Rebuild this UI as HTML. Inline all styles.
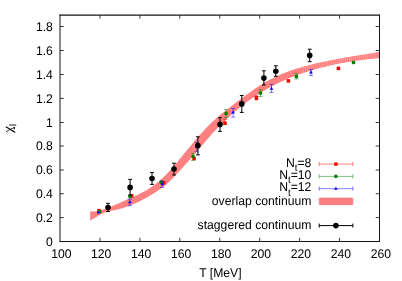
<!DOCTYPE html>
<html><head><meta charset="utf-8"><title>chart</title>
<style>
html,body{margin:0;padding:0;background:#fff;}
svg{display:block;will-change:transform}
text{font-family:"Liberation Sans",sans-serif;font-size:12.2px;fill:#000;text-rendering:geometricPrecision}
</style></head>
<body>
<svg width="402" height="281" viewBox="0 0 402 281">
<rect width="402" height="281" fill="#fff"/>
<g id="data">
<defs><pattern id="st" x="303.0" y="0" width="2" height="40" patternUnits="userSpaceOnUse"><rect x="0" y="0" width="1" height="40" fill="#fff" fill-opacity="0.16"/></pattern><clipPath id="bc"><polygon points="90.2,211.48 92.1,211.51 94.1,211.41 96.0,211.20 98.0,210.87 99.9,210.44 101.8,209.93 103.8,209.34 105.7,208.69 107.7,207.98 109.6,207.23 111.6,206.43 113.5,205.61 115.4,204.76 117.4,203.89 119.3,203.02 121.3,202.14 123.2,201.28 125.1,200.42 127.1,199.58 129.0,198.74 131.0,197.89 132.9,197.03 134.9,196.15 136.8,195.25 138.7,194.32 140.7,193.35 142.6,192.34 144.6,191.28 146.5,190.16 148.4,188.97 150.4,187.72 152.3,186.39 154.3,184.99 156.2,183.50 158.2,181.93 160.1,180.27 162.0,178.53 164.0,176.69 165.9,174.76 167.9,172.73 169.8,170.63 171.7,168.45 173.7,166.22 175.6,163.94 177.6,161.63 179.5,159.29 181.5,156.94 183.4,154.58 185.3,152.22 187.3,149.86 189.2,147.52 191.2,145.18 193.1,142.86 195.0,140.56 197.0,138.29 198.9,136.06 200.9,133.86 202.8,131.70 204.8,129.59 206.7,127.53 208.6,125.52 210.6,123.58 212.5,121.70 214.5,119.90 216.4,118.15 218.3,116.46 220.3,114.82 222.2,113.22 224.2,111.66 226.1,110.13 228.1,108.63 230.0,107.14 231.9,105.67 233.9,104.21 235.8,102.75 237.8,101.29 239.7,99.82 241.6,98.37 243.6,96.92 245.5,95.48 247.5,94.06 249.4,92.65 251.4,91.26 253.3,89.90 255.2,88.56 257.2,87.25 259.1,85.97 261.1,84.73 263.0,83.53 264.9,82.36 266.9,81.25 268.8,80.17 270.8,79.13 272.7,78.14 274.7,77.18 276.6,76.26 278.5,75.38 280.5,74.53 282.4,73.72 284.4,72.93 286.3,72.18 288.2,71.45 290.2,70.76 292.1,70.09 294.1,69.44 296.0,68.82 298.0,68.22 299.9,67.63 301.8,67.07 303.8,66.53 305.7,66.00 307.7,65.49 309.6,64.99 311.5,64.51 313.5,64.03 315.4,63.57 317.4,63.11 319.3,62.67 321.3,62.24 323.2,61.82 325.1,61.40 327.1,61.00 329.0,60.60 331.0,60.21 332.9,59.83 334.8,59.46 336.8,59.09 338.7,58.73 340.7,58.38 342.6,58.03 344.6,57.69 346.5,57.35 348.4,57.01 350.4,56.68 352.3,56.36 354.3,56.03 356.2,55.72 358.1,55.40 360.1,55.08 362.0,54.77 364.0,54.46 365.9,54.15 367.9,53.84 369.8,53.52 371.7,53.21 373.7,52.90 375.6,52.59 377.6,52.28 379.5,51.96 379.5,58.08 377.6,58.27 375.6,58.47 373.7,58.67 371.7,58.88 369.8,59.09 367.9,59.31 365.9,59.54 364.0,59.78 362.0,60.03 360.1,60.28 358.1,60.54 356.2,60.81 354.3,61.09 352.3,61.38 350.4,61.68 348.4,61.99 346.5,62.31 344.6,62.65 342.6,62.99 340.7,63.35 338.7,63.71 336.8,64.09 334.8,64.48 332.9,64.89 331.0,65.31 329.0,65.74 327.1,66.19 325.1,66.65 323.2,67.13 321.3,67.62 319.3,68.12 317.4,68.65 315.4,69.18 313.5,69.74 311.5,70.31 309.6,70.90 307.7,71.51 305.7,72.13 303.8,72.78 301.8,73.44 299.9,74.12 298.0,74.82 296.0,75.54 294.1,76.28 292.1,77.04 290.2,77.82 288.2,78.62 286.3,79.44 284.4,80.29 282.4,81.16 280.5,82.05 278.5,82.97 276.6,83.91 274.7,84.88 272.7,85.87 270.8,86.89 268.8,87.94 266.9,89.02 264.9,90.13 263.0,91.27 261.1,92.44 259.1,93.64 257.2,94.87 255.2,96.14 253.3,97.44 251.4,98.77 249.4,100.14 247.5,101.55 245.5,102.99 243.6,104.47 241.6,105.99 239.7,107.54 237.8,109.13 235.8,110.76 233.9,112.43 231.9,114.14 230.0,115.88 228.1,117.67 226.1,119.49 224.2,121.35 222.2,123.25 220.3,125.19 218.3,127.17 216.4,129.20 214.5,131.26 212.5,133.36 210.6,135.50 208.6,137.68 206.7,139.90 204.8,142.15 202.8,144.42 200.9,146.70 198.9,148.99 197.0,151.28 195.0,153.55 193.1,155.82 191.2,158.06 189.2,160.27 187.3,162.44 185.3,164.57 183.4,166.68 181.5,168.78 179.5,170.90 177.6,173.05 175.6,175.19 173.7,177.30 171.7,179.33 169.8,181.26 167.9,183.05 165.9,184.71 164.0,186.25 162.0,187.67 160.1,189.03 158.2,190.36 156.2,191.66 154.3,192.93 152.3,194.17 150.4,195.37 148.4,196.53 146.5,197.65 144.6,198.74 142.6,199.78 140.7,200.78 138.7,201.73 136.8,202.65 134.9,203.53 132.9,204.36 131.0,205.15 129.0,205.90 127.1,206.61 125.1,207.27 123.2,207.89 121.3,208.47 119.3,209.00 117.4,209.49 115.4,209.94 113.5,210.34 111.6,210.72 109.6,211.15 107.7,211.68 105.7,212.33 103.8,213.09 101.8,213.96 99.9,214.94 98.0,216.02 96.0,217.16 94.1,218.34 92.1,219.56 90.2,220.79"/></clipPath></defs><polygon points="90.2,211.48 92.1,211.51 94.1,211.41 96.0,211.20 98.0,210.87 99.9,210.44 101.8,209.93 103.8,209.34 105.7,208.69 107.7,207.98 109.6,207.23 111.6,206.43 113.5,205.61 115.4,204.76 117.4,203.89 119.3,203.02 121.3,202.14 123.2,201.28 125.1,200.42 127.1,199.58 129.0,198.74 131.0,197.89 132.9,197.03 134.9,196.15 136.8,195.25 138.7,194.32 140.7,193.35 142.6,192.34 144.6,191.28 146.5,190.16 148.4,188.97 150.4,187.72 152.3,186.39 154.3,184.99 156.2,183.50 158.2,181.93 160.1,180.27 162.0,178.53 164.0,176.69 165.9,174.76 167.9,172.73 169.8,170.63 171.7,168.45 173.7,166.22 175.6,163.94 177.6,161.63 179.5,159.29 181.5,156.94 183.4,154.58 185.3,152.22 187.3,149.86 189.2,147.52 191.2,145.18 193.1,142.86 195.0,140.56 197.0,138.29 198.9,136.06 200.9,133.86 202.8,131.70 204.8,129.59 206.7,127.53 208.6,125.52 210.6,123.58 212.5,121.70 214.5,119.90 216.4,118.15 218.3,116.46 220.3,114.82 222.2,113.22 224.2,111.66 226.1,110.13 228.1,108.63 230.0,107.14 231.9,105.67 233.9,104.21 235.8,102.75 237.8,101.29 239.7,99.82 241.6,98.37 243.6,96.92 245.5,95.48 247.5,94.06 249.4,92.65 251.4,91.26 253.3,89.90 255.2,88.56 257.2,87.25 259.1,85.97 261.1,84.73 263.0,83.53 264.9,82.36 266.9,81.25 268.8,80.17 270.8,79.13 272.7,78.14 274.7,77.18 276.6,76.26 278.5,75.38 280.5,74.53 282.4,73.72 284.4,72.93 286.3,72.18 288.2,71.45 290.2,70.76 292.1,70.09 294.1,69.44 296.0,68.82 298.0,68.22 299.9,67.63 301.8,67.07 303.8,66.53 305.7,66.00 307.7,65.49 309.6,64.99 311.5,64.51 313.5,64.03 315.4,63.57 317.4,63.11 319.3,62.67 321.3,62.24 323.2,61.82 325.1,61.40 327.1,61.00 329.0,60.60 331.0,60.21 332.9,59.83 334.8,59.46 336.8,59.09 338.7,58.73 340.7,58.38 342.6,58.03 344.6,57.69 346.5,57.35 348.4,57.01 350.4,56.68 352.3,56.36 354.3,56.03 356.2,55.72 358.1,55.40 360.1,55.08 362.0,54.77 364.0,54.46 365.9,54.15 367.9,53.84 369.8,53.52 371.7,53.21 373.7,52.90 375.6,52.59 377.6,52.28 379.5,51.96 379.5,58.08 377.6,58.27 375.6,58.47 373.7,58.67 371.7,58.88 369.8,59.09 367.9,59.31 365.9,59.54 364.0,59.78 362.0,60.03 360.1,60.28 358.1,60.54 356.2,60.81 354.3,61.09 352.3,61.38 350.4,61.68 348.4,61.99 346.5,62.31 344.6,62.65 342.6,62.99 340.7,63.35 338.7,63.71 336.8,64.09 334.8,64.48 332.9,64.89 331.0,65.31 329.0,65.74 327.1,66.19 325.1,66.65 323.2,67.13 321.3,67.62 319.3,68.12 317.4,68.65 315.4,69.18 313.5,69.74 311.5,70.31 309.6,70.90 307.7,71.51 305.7,72.13 303.8,72.78 301.8,73.44 299.9,74.12 298.0,74.82 296.0,75.54 294.1,76.28 292.1,77.04 290.2,77.82 288.2,78.62 286.3,79.44 284.4,80.29 282.4,81.16 280.5,82.05 278.5,82.97 276.6,83.91 274.7,84.88 272.7,85.87 270.8,86.89 268.8,87.94 266.9,89.02 264.9,90.13 263.0,91.27 261.1,92.44 259.1,93.64 257.2,94.87 255.2,96.14 253.3,97.44 251.4,98.77 249.4,100.14 247.5,101.55 245.5,102.99 243.6,104.47 241.6,105.99 239.7,107.54 237.8,109.13 235.8,110.76 233.9,112.43 231.9,114.14 230.0,115.88 228.1,117.67 226.1,119.49 224.2,121.35 222.2,123.25 220.3,125.19 218.3,127.17 216.4,129.20 214.5,131.26 212.5,133.36 210.6,135.50 208.6,137.68 206.7,139.90 204.8,142.15 202.8,144.42 200.9,146.70 198.9,148.99 197.0,151.28 195.0,153.55 193.1,155.82 191.2,158.06 189.2,160.27 187.3,162.44 185.3,164.57 183.4,166.68 181.5,168.78 179.5,170.90 177.6,173.05 175.6,175.19 173.7,177.30 171.7,179.33 169.8,181.26 167.9,183.05 165.9,184.71 164.0,186.25 162.0,187.67 160.1,189.03 158.2,190.36 156.2,191.66 154.3,192.93 152.3,194.17 150.4,195.37 148.4,196.53 146.5,197.65 144.6,198.74 142.6,199.78 140.7,200.78 138.7,201.73 136.8,202.65 134.9,203.53 132.9,204.36 131.0,205.15 129.0,205.90 127.1,206.61 125.1,207.27 123.2,207.89 121.3,208.47 119.3,209.00 117.4,209.49 115.4,209.94 113.5,210.34 111.6,210.72 109.6,211.15 107.7,211.68 105.7,212.33 103.8,213.09 101.8,213.96 99.9,214.94 98.0,216.02 96.0,217.16 94.1,218.34 92.1,219.56 90.2,220.79" fill="#ff8080"/><rect x="303" y="40" width="76.5" height="40" fill="url(#st)" clip-path="url(#bc)"/>

<rect x="97.25" y="208.85" width="3.5" height="3.5" rx="0" fill="#ff0000"/>

<rect x="129.95" y="194.15" width="3.5" height="3.5" rx="0" fill="#ff0000"/>

<rect x="161.85" y="181.05" width="3.5" height="3.5" rx="0" fill="#ff0000"/>

<rect x="192.35" y="156.75" width="3.5" height="3.5" rx="0" fill="#ff0000"/>
<path d="M224.9,119.3V124.5M222.8,119.3h4.2M222.8,124.5h4.2" stroke="#ff0000" stroke-width="0.5" fill="none"/>
<rect x="223.20" y="121.35" width="3.5" height="3.5" rx="0" fill="#ff0000"/>

<rect x="254.65" y="95.45" width="3.5" height="4.7" rx="0.9" fill="#ff0000"/>

<rect x="286.65" y="79.15" width="3.5" height="3.5" rx="0" fill="#ff0000"/>

<rect x="336.70" y="66.65" width="3.5" height="3.5" rx="0" fill="#ff0000"/>

<rect x="97.95" y="209.75" width="3.5" height="3.5" rx="1.3" fill="#008000"/>

<rect x="128.15" y="194.65" width="3.5" height="3.5" rx="1.3" fill="#008000"/>

<rect x="159.45" y="180.55" width="3.5" height="3.5" rx="1.3" fill="#008000"/>
<path d="M193.1,153.3V160.4M191.0,153.3h4.2M191.0,160.4h4.2" stroke="#008000" stroke-width="0.5" fill="none"/>
<rect x="191.35" y="154.85" width="3.5" height="3.5" rx="1.3" fill="#008000"/>
<path d="M226.1,109.5V117.5M224.0,109.5h4.2M224.0,117.5h4.2" stroke="#008000" stroke-width="0.5" fill="none"/>
<rect x="224.35" y="111.75" width="3.5" height="3.5" rx="1.3" fill="#008000"/>
<path d="M260.5,89.6V96.5M258.4,89.6h4.2M258.4,96.5h4.2" stroke="#008000" stroke-width="0.5" fill="none"/>
<rect x="258.75" y="91.25" width="3.5" height="3.5" rx="1.3" fill="#008000"/>
<path d="M296.4,73.4V79.0M294.3,73.4h4.2M294.3,79.0h4.2" stroke="#008000" stroke-width="0.5" fill="none"/>
<rect x="294.65" y="74.75" width="3.5" height="3.5" rx="1.3" fill="#008000"/>

<rect x="351.75" y="60.70" width="3.5" height="3.5" rx="1.3" fill="#008000"/>

<path d="M98.4,210.4l1.8,3.1h-3.6z" fill="#0000ff"/>
<path d="M129.8,199.1V205.7M127.7,199.1h4.2M127.7,205.7h4.2" stroke="#0000ff" stroke-width="0.5" fill="none"/>
<path d="M129.8,200.2l1.8,3.1h-3.6z" fill="#0000ff"/>
<path d="M162.2,181.0V187.4M160.1,181.0h4.2M160.1,187.4h4.2" stroke="#0000ff" stroke-width="0.5" fill="none"/>
<path d="M162.2,182.2l1.8,3.1h-3.6z" fill="#0000ff"/>
<path d="M196.8,142.5V151.8M194.7,142.5h4.2M194.7,151.8h4.2" stroke="#0000ff" stroke-width="0.5" fill="none"/>
<path d="M196.8,145.0l1.8,3.1h-3.6z" fill="#0000ff"/>
<path d="M233.1,108.5V117.2M231.0,108.5h4.2M231.0,117.2h4.2" stroke="#0000ff" stroke-width="0.5" fill="none"/>
<path d="M233.1,110.4l1.8,3.1h-3.6z" fill="#0000ff"/>
<path d="M271.5,84.3V92.5M269.4,84.3h4.2M269.4,92.5h4.2" stroke="#0000ff" stroke-width="0.5" fill="none"/>
<path d="M271.5,86.6l1.8,3.1h-3.6z" fill="#0000ff"/>
<path d="M311.0,69.5V75.6M308.9,69.5h4.2M308.9,75.6h4.2" stroke="#0000ff" stroke-width="0.5" fill="none"/>
<path d="M311.0,70.3l1.8,3.1h-3.6z" fill="#0000ff"/>
<path d="M108.0,203.3V211.5M106.1,203.3h3.8M106.1,211.5h3.8" stroke="#000" stroke-width="1.0" fill="none"/>
<circle cx="108.0" cy="207.5" r="2.8" fill="#000"/>
<path d="M130.1,179.4V195.0M128.2,179.4h3.8M128.2,195.0h3.8" stroke="#000" stroke-width="1.0" fill="none"/>
<circle cx="130.1" cy="187.4" r="2.8" fill="#000"/>
<path d="M152.0,172.5V184.4M150.1,172.5h3.8M150.1,184.4h3.8" stroke="#000" stroke-width="1.0" fill="none"/>
<circle cx="152.0" cy="178.5" r="2.8" fill="#000"/>
<path d="M174.0,163.2V175.0M172.1,163.2h3.8M172.1,175.0h3.8" stroke="#000" stroke-width="1.0" fill="none"/>
<circle cx="174.0" cy="169.0" r="2.8" fill="#000"/>
<path d="M197.9,136.8V154.9M196.0,136.8h3.8M196.0,154.9h3.8" stroke="#000" stroke-width="1.0" fill="none"/>
<circle cx="197.9" cy="145.6" r="2.8" fill="#000"/>
<path d="M220.0,117.7V131.4M218.1,117.7h3.8M218.1,131.4h3.8" stroke="#000" stroke-width="1.0" fill="none"/>
<circle cx="220.0" cy="124.4" r="2.8" fill="#000"/>
<path d="M241.8,95.5V112.4M239.9,95.5h3.8M239.9,112.4h3.8" stroke="#000" stroke-width="1.0" fill="none"/>
<circle cx="241.8" cy="103.9" r="2.8" fill="#000"/>
<path d="M263.9,70.8V85.0M262.0,70.8h3.8M262.0,85.0h3.8" stroke="#000" stroke-width="1.0" fill="none"/>
<circle cx="263.9" cy="78.1" r="2.8" fill="#000"/>
<path d="M275.8,65.8V76.3M273.9,65.8h3.8M273.9,76.3h3.8" stroke="#000" stroke-width="1.0" fill="none"/>
<circle cx="275.8" cy="71.2" r="2.8" fill="#000"/>
<path d="M309.7,49.2V61.7M307.8,49.2h3.8M307.8,61.7h3.8" stroke="#000" stroke-width="1.0" fill="none"/>
<circle cx="309.7" cy="55.4" r="2.8" fill="#000"/>
</g>
<g id="axes">
<path d="M60.0,14.5V242.0M379.5,14.5V242.0M59.7,241.5H380.0" fill="none" stroke="#151515" stroke-width="1"/><path d="M59.5,15.0H380.0" fill="none" stroke="#151515" stroke-width="1.25"/><path d="M60.0,217.60h3.8M379.5,217.60h-3.8M60.0,193.70h3.8M379.5,193.70h-3.8M60.0,170.00h3.8M379.5,170.00h-3.8M60.0,146.00h3.8M379.5,146.00h-3.8M60.0,122.50h3.8M379.5,122.50h-3.8M60.0,98.40h3.8M379.5,98.40h-3.8M60.0,74.50h3.8M379.5,74.50h-3.8M60.0,50.50h3.8M379.5,50.50h-3.8M60.0,26.50h3.8M379.5,26.50h-3.8M99.94,241.5v-3.6M99.94,15.0v3.6M139.88,241.5v-3.6M139.88,15.0v3.6M179.81,241.5v-3.6M179.81,15.0v3.6M219.75,241.5v-3.6M219.75,15.0v3.6M259.69,241.5v-3.6M259.69,15.0v3.6M299.62,241.5v-3.6M299.62,15.0v3.6M339.56,241.5v-3.6M339.56,15.0v3.6" stroke="#222" stroke-width="0.9" fill="none"/>
</g>
<g id="labels">
<text transform="translate(52.90,245.90) scale(1,1.03)" text-anchor="end">0</text><text transform="translate(52.90,221.80) scale(1,1.03)" text-anchor="end">0.2</text><text transform="translate(52.90,197.90) scale(1,1.03)" text-anchor="end">0.4</text><text transform="translate(52.90,174.20) scale(1,1.03)" text-anchor="end">0.6</text><text transform="translate(52.90,150.20) scale(1,1.03)" text-anchor="end">0.8</text><text transform="translate(52.90,126.70) scale(1,1.03)" text-anchor="end">1</text><text transform="translate(52.90,102.60) scale(1,1.03)" text-anchor="end">1.2</text><text transform="translate(52.90,78.70) scale(1,1.03)" text-anchor="end">1.4</text><text transform="translate(52.90,54.70) scale(1,1.03)" text-anchor="end">1.6</text><text transform="translate(52.90,30.70) scale(1,1.03)" text-anchor="end">1.8</text><text transform="translate(61.30,258.00) scale(1,1.03)" text-anchor="middle">100</text><text transform="translate(101.24,258.00) scale(1,1.03)" text-anchor="middle">120</text><text transform="translate(141.18,258.00) scale(1,1.03)" text-anchor="middle">140</text><text transform="translate(181.11,258.00) scale(1,1.03)" text-anchor="middle">160</text><text transform="translate(221.05,258.00) scale(1,1.03)" text-anchor="middle">180</text><text transform="translate(260.99,258.00) scale(1,1.03)" text-anchor="middle">200</text><text transform="translate(300.93,258.00) scale(1,1.03)" text-anchor="middle">220</text><text transform="translate(340.86,258.00) scale(1,1.03)" text-anchor="middle">240</text><text transform="translate(380.80,258.00) scale(1,1.03)" text-anchor="middle">260</text><text transform="translate(220.40,276.60) scale(1,1.03)" text-anchor="middle">T [MeV]</text><g fill="none" stroke="#000" stroke-linecap="round"><path d="M6.1,127.0C8.5,128.0 12.5,131.0 14.8,132.2" stroke-width="1.05"/><path d="M7.0,132.3Q6.0,131.9 6.6,131.2L14.1,127.6" stroke-width="0.75"/><path d="M14.3,127.2V128.7" stroke-width="1.1"/><path d="M9.2,125.0H16.3" stroke-width="1.0" stroke="#222" stroke-linecap="butt"/></g>
</g>
<g id="legend">
<text transform="translate(311.40,166.70) scale(1,1.03)" text-anchor="end">N<tspan font-size="9.8" dy="4.3">t</tspan><tspan dy="-4.3">=8</tspan></text><text transform="translate(311.40,179.00) scale(1,1.03)" text-anchor="end">N<tspan font-size="9.8" dy="4.3">t</tspan><tspan dy="-4.3">=10</tspan></text><text transform="translate(311.40,191.30) scale(1,1.03)" text-anchor="end">N<tspan font-size="9.8" dy="4.3">t</tspan><tspan dy="-4.3">=12</tspan></text><text transform="translate(311.40,205.00) scale(1,1.03)" text-anchor="end">overlap continuum</text><text transform="translate(311.40,229.20) scale(1,1.03)" text-anchor="end">staggered continuum</text><path d="M319.2,164.1H352.9M319.2,162.0v4.2M352.9,162.0v4.2" stroke="#ff0000" stroke-width="0.5" fill="none"/><rect x="334.2" y="162.4" width="3.4" height="3.4" fill="#ff0000"/><path d="M319.2,176.4H352.9M319.2,174.3v4.2M352.9,174.3v4.2" stroke="#008000" stroke-width="0.5" fill="none"/><circle cx="335.9" cy="176.4" r="1.8" fill="#008000"/><path d="M319.2,188.7H352.9M319.2,186.6v4.2M352.9,186.6v4.2" stroke="#0000ff" stroke-width="0.5" fill="none"/><path d="M335.9,186.7l1.8,3.1h-3.6z" fill="#0000ff"/><rect x="319.3" y="198.0" width="33.5" height="6.8" rx="0.6" fill="#ff8080" stroke="#f56a6a" stroke-width="0.6"/><path d="M319.2,225.6H352.9M319.2,223.6v4.0M352.9,223.6v4.0" stroke="#000" stroke-width="1.0" fill="none"/><circle cx="335.9" cy="225.6" r="2.8" fill="#000"/>
</g>
</svg>
</body></html>
